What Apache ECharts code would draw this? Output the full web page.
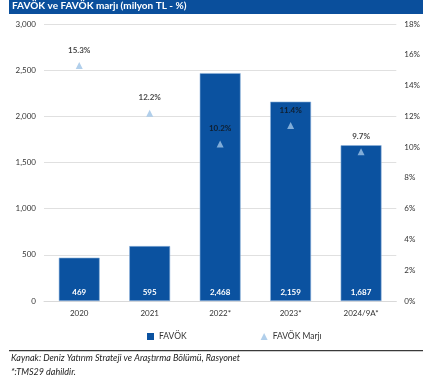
<!DOCTYPE html>
<html>
<head>
<meta charset="utf-8">
<script src="https://cdn.jsdelivr.net/npm/echarts@6/dist/echarts.min.js"></script>
<style>
  html, body { margin: 0; padding: 0; background: #fff; }
  #chart { width: 423px; height: 381px; }
</style>
</head>
<body>
<div id="chart"></div>
<script>
// FAVÖK (milyon TL) and FAVÖK margin (%) by year
const categories = ['2020', '2021', '2022*', '2023*', '2024/9A*'];
const favok = [469, 595, 2468, 2159, 1687];
const favokMarji = [15.3, 12.2, 10.2, 11.4, 9.7];
const leftTicks = { min: 0, max: 3000, interval: 500 };
const rightTicks = { min: 0, max: 18, interval: 2 };

const FONT = 'Lato, "Open Sans", sans-serif';
const BAR_BLUE = '#0b52a0';
const TRI_BLUE = '#9dc3e6';

const chart = echarts.init(document.getElementById('chart'), null, { renderer: 'canvas' });

chart.setOption({
  animation: false,
  textStyle: { fontFamily: FONT },
  grid: { left: 44, right: 26, top: 24, bottom: 80, containLabel: false },
  graphic: [
    { type: 'rect', left: 9, top: 0, shape: { width: 414, height: 14 }, style: { fill: '#0a4f9c' } },
    { type: 'text', left: 12, top: 1, style: { text: 'FAVÖK ve FAVÖK marjı (milyon TL - %)', fill: '#fff', font: 'bold 10px ' + FONT } },
    { type: 'rect', left: 9, top: 350, shape: { width: 414, height: 1.3 }, style: { fill: '#3a3a3a' } },
    { type: 'text', left: 11, top: 354, style: { text: 'Kaynak: Deniz Yatırım Strateji ve Araştırma Bölümü, Rasyonet', fill: '#222', font: 'italic 9px ' + FONT } },
    { type: 'text', left: 11, top: 368, style: { text: '*:TMS29 dahildir.', fill: '#222', font: 'italic 9px ' + FONT } }
  ],
  legend: {
    top: 327,
    left: 142,
    itemGap: 74,
    itemWidth: 7,
    itemHeight: 7,
    textStyle: { fontSize: 8.5, color: '#333', fontFamily: FONT },
    data: [
      { name: 'FAVÖK', icon: 'rect', itemStyle: { borderWidth: 0 } },
      { name: 'FAVÖK Marjı', icon: 'triangle' }
    ]
  },
  xAxis: {
    type: 'category',
    data: categories,
    axisLine: { show: true, lineStyle: { color: '#d9d9d9', width: 1 } },
    axisTick: { show: false },
    axisLabel: { fontSize: 8, color: '#333', margin: 8, fontFamily: FONT }
  },
  yAxis: [
    {
      type: 'value',
      min: leftTicks.min, max: leftTicks.max, interval: leftTicks.interval,
      axisLine: { show: false },
      axisTick: { show: false },
      splitLine: { lineStyle: { color: '#e0e0e0', width: 1 } },
      axisLabel: {
        fontSize: 8, color: '#333', margin: 8, fontFamily: FONT,
        formatter: v => v.toLocaleString('en-US')
      }
    },
    {
      type: 'value',
      min: rightTicks.min, max: rightTicks.max, interval: rightTicks.interval,
      axisLine: { show: false },
      axisTick: { show: false },
      splitLine: { show: false },
      axisLabel: { fontSize: 8, color: '#333', margin: 8, fontFamily: FONT, formatter: '{value}%' }
    }
  ],
  series: [
    {
      name: 'FAVÖK',
      type: 'bar',
      data: favok,
      barWidth: '58%',
      itemStyle: { color: BAR_BLUE, borderColor: '#8fb4dc', borderWidth: 0.6 },
      label: {
        show: true, position: 'insideBottom', distance: 5,
        color: '#fff', fontWeight: 'bold', fontSize: 8, fontFamily: FONT,
        formatter: p => p.value.toLocaleString('en-US')
      }
    },
    {
      name: 'FAVÖK Marjı',
      type: 'scatter',
      yAxisIndex: 1,
      data: favokMarji,
      symbol: 'triangle',
      symbolSize: 7,
      itemStyle: { color: TRI_BLUE },
      label: {
        show: true, position: 'top', distance: 8,
        color: '#111', fontWeight: 'bold', fontSize: 8, fontFamily: FONT,
        formatter: p => p.value.toFixed(1) + '%'
      }
    }
  ]
});
</script>
</body>
</html>
